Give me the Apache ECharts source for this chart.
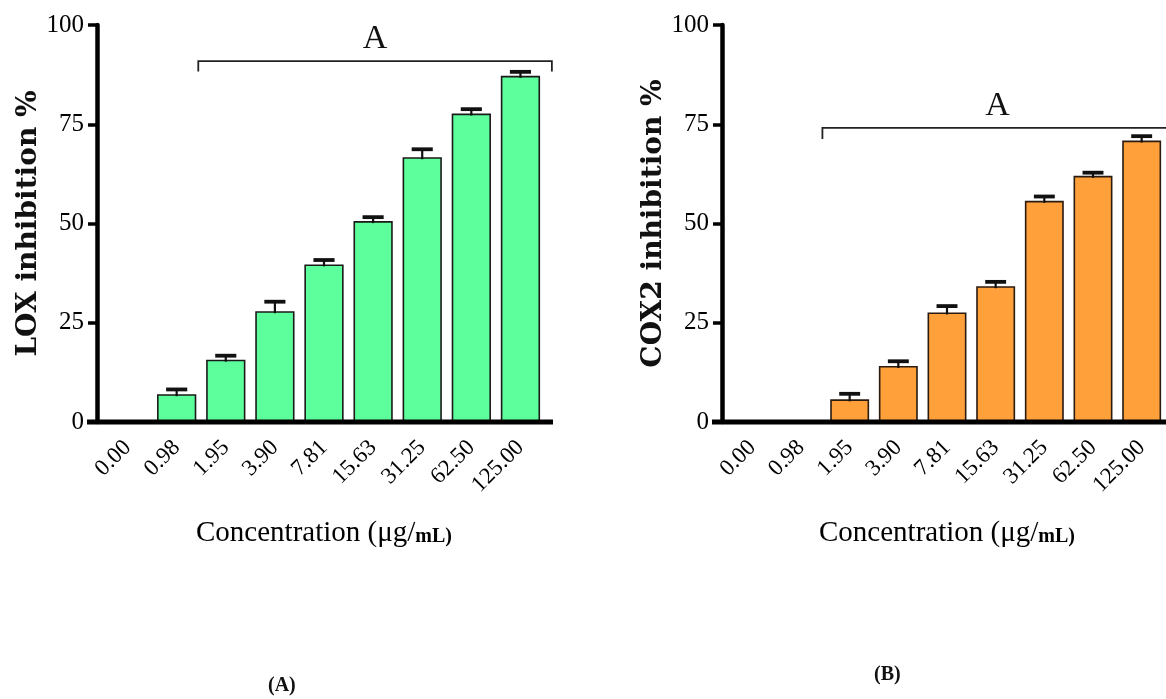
<!DOCTYPE html>
<html>
<head>
<meta charset="utf-8">
<script src="https://cdn.jsdelivr.net/npm/echarts@6/dist/echarts.min.js"></script>
<style>html,body{margin:0;padding:0;background:#fff;}#c{width:1166px;height:699px;}</style>
</head>
<body>
<div id="c"></div>
<script>
const categories = ['0.00','0.98','1.95','3.90','7.81','15.63','31.25','62.50','125.00'];
const loxValues = [0, 7.0, 15.7, 27.9, 39.7, 50.6, 66.7, 77.7, 87.2];
const loxErrors = [0, 1.2, 1.0, 2.4, 1.1, 1.0, 2.0, 1.1, 1.0];
const coxValues = [0, 0, 5.7, 14.1, 27.6, 34.2, 55.7, 62.0, 70.9];
const coxErrors = [0, 0, 1.4, 1.2, 1.6, 1.1, 1.1, 0.8, 1.1];
const yTicks = [0, 25, 50, 75, 100];
const loxBracket = [1.44, 8.64, 90.9, 88.3, 'A'];
const coxBracket = [1.44, 8.64, 74.1, 71.3, 'A'];

const GRID_TOP = 25, GRID_H = 397, GRID_W = 442;
const GRID_LEFTS = [103, 728];
const chart = echarts.init(document.getElementById('c'));

function yAxisCfg(gi, name) {
  return {
    type: 'value', gridIndex: gi, min: yTicks[0], max: yTicks[yTicks.length - 1], interval: 25,
    offset: 6,
    name: name, nameLocation: 'middle', nameGap: 52,
    nameTextStyle: { fontFamily: 'DejaVu Serif', fontWeight: 'bold', fontSize: 28, color: '#111' },
    axisLine: { show: true, lineStyle: { color: '#000', width: 4.5 } },
    axisTick: { show: true, length: 9, lineStyle: { color: '#000', width: 3.5 } },
    axisLabel: { fontFamily: 'Liberation Serif', fontSize: 25, color: '#000', margin: 13 },
    splitLine: { show: false }
  };
}
function xAxisCfg(gi) {
  return {
    type: 'category', gridIndex: gi, data: categories,
    name: '{a|Concentration (μg/}{b|mL)}', nameLocation: 'middle', nameGap: 97,
    nameTextStyle: { rich: {
      a: { fontFamily: 'Liberation Serif', fontSize: 29, color: '#000' },
      b: { fontFamily: 'Liberation Serif', fontSize: 20, color: '#000', fontWeight: 'bold', padding: [6, 0, 0, 0] }
    } },
    axisLine: { show: false },
    axisTick: { show: false },
    axisLabel: { rotate: 45, fontFamily: 'Liberation Serif', fontSize: 23, color: '#000', margin: 22, interval: 0 }
  };
}
function errorSeries(gi, values, errors) {
  return {
    type: 'custom', xAxisIndex: gi, yAxisIndex: gi, z: 5,
    data: values.map((v, i) => [i, v, errors[i]]),
    renderItem: function (params, api) {
      const i = api.value(0), v = api.value(1), e = api.value(2);
      if (!e) return null;
      const base = api.coord([i, v]);
      const top = api.coord([i, v + e]);
      const half = api.size([1, 0])[0] * 0.215;
      return { type: 'group', children: [
        { type: 'line', shape: { x1: base[0], y1: base[1] + 2, x2: top[0], y2: top[1] }, style: { stroke: '#111', lineWidth: 2.2 } },
        { type: 'line', shape: { x1: top[0] - half, y1: top[1], x2: top[0] + half, y2: top[1] }, style: { stroke: '#111', lineWidth: 3.8 } }
      ] };
    }
  };
}
function bracketSeries(gi, b) {
  return {
    type: 'custom', xAxisIndex: gi, yAxisIndex: gi, z: 6, clip: false,
    data: [b],
    renderItem: function (params, api) {
      const band = api.size([1, 0])[0];
      const x0 = api.coord([0, 0])[0];
      const xa = x0 + api.value(0) * band, xb = x0 + api.value(1) * band;
      const yl = api.coord([0, api.value(2)])[1], yt = api.coord([0, api.value(3)])[1];
      return { type: 'group', children: [
        { type: 'polyline', shape: { points: [[xa, yt], [xa, yl], [xb, yl], [xb, yt]] }, style: { stroke: '#222', lineWidth: 1.8, fill: null } },
        { type: 'text', style: { text: b[4], x: (xa + xb) / 2, y: yl - 5, align: 'center', verticalAlign: 'bottom', font: '34px "Liberation Serif"', fill: '#111' } }
      ] };
    }
  };
}
function barSeries(gi, values, color, border) {
  return {
    type: 'bar', xAxisIndex: gi, yAxisIndex: gi, data: values, barCategoryGap: '20%',
    itemStyle: { color: color, borderColor: border, borderWidth: 1.6 }
  };
}

const axisLines = GRID_LEFTS.map(l => ({
  type: 'line', z: 10,
  shape: { x1: l - 16, y1: GRID_TOP + GRID_H, x2: l + GRID_W + 8, y2: GRID_TOP + GRID_H },
  style: { stroke: '#000', lineWidth: 5 }
}));

chart.setOption({
  backgroundColor: '#fff',
  animation: false,
  grid: GRID_LEFTS.map(l => ({ left: l, top: GRID_TOP, width: GRID_W, height: GRID_H })),
  xAxis: [xAxisCfg(0), xAxisCfg(1)],
  yAxis: [yAxisCfg(0, 'LOX inhibition %'), yAxisCfg(1, 'COX2 inhibition %')],
  series: [
    barSeries(0, loxValues, '#5cff9b', '#1a1a1a'),
    errorSeries(0, loxValues, loxErrors),
    bracketSeries(0, loxBracket),
    barSeries(1, coxValues, '#ffa03a', '#2a1a10'),
    errorSeries(1, coxValues, coxErrors),
    bracketSeries(1, coxBracket)
  ],
  graphic: axisLines.concat([
    { type: 'text', left: 268, top: 676, style: { text: '(A)', font: 'bold 20px "Liberation Serif"', fill: '#111' } },
    { type: 'text', left: 874, top: 665, style: { text: '(B)', font: 'bold 20px "Liberation Serif"', fill: '#111' } }
  ])
});
</script>
</body>
</html>
